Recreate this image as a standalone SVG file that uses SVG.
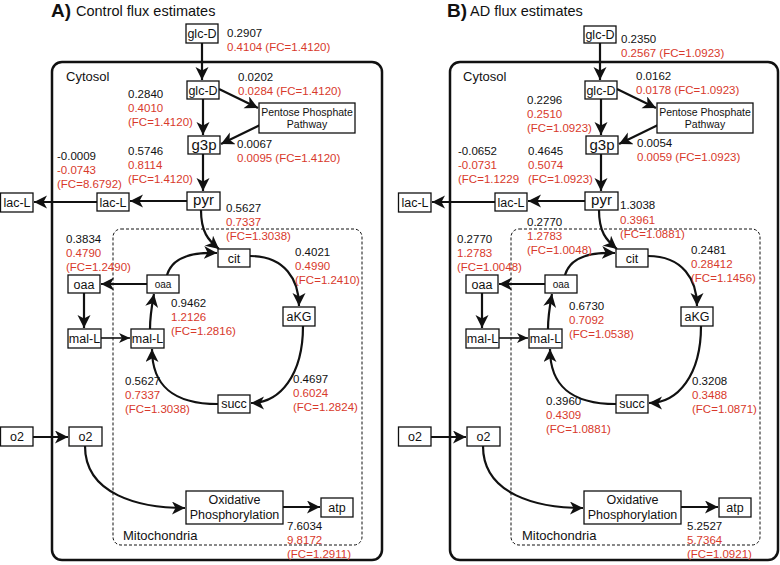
<svg xmlns="http://www.w3.org/2000/svg" width="780" height="565" viewBox="0 0 780 565">
<defs>
<style>
.bx{fill:#fff;stroke:#111;stroke-width:1.3}
.nt{font-family:"Liberation Sans",Arial,sans-serif;font-size:12.5px;fill:#111;text-anchor:middle}
.big{font-size:15px}
.sm{font-size:10px}
.pp{font-size:10.5px}
.lb{font-family:"Liberation Sans",Arial,sans-serif;font-size:11.5px;fill:#111}
.r{fill:#d8392b}
.rg{font-family:"Liberation Sans",Arial,sans-serif;font-size:13px;fill:#111}
.cy{fill:none;stroke:#111;stroke-width:2.5}
.mi{fill:none;stroke:#111;stroke-width:1;stroke-dasharray:3 2}
.c{fill:none;stroke:#111;stroke-width:2.2;marker-end:url(#ah)}
.cs{fill:none;stroke:#111;stroke-width:1.6;marker-end:url(#ahs)}
.tt{font-family:"Liberation Sans",Arial,sans-serif;font-size:14.5px;fill:#111}
.tb{font-family:"Liberation Sans",Arial,sans-serif;font-size:19px;font-weight:bold;fill:#111}
</style>
<marker id="ah" markerUnits="userSpaceOnUse" markerWidth="14" markerHeight="14" refX="13" refY="6.5" orient="auto"><path d="M0,0 L13,6.5 L0,13 L3.5,6.5 Z" fill="#111"/></marker>
<marker id="ahs" markerUnits="userSpaceOnUse" markerWidth="12" markerHeight="11" refX="11" refY="5" orient="auto"><path d="M0,0 L11,5 L0,10 L3,5 Z" fill="#111"/></marker>
</defs>

<!-- ===== Panel A ===== -->
<g id="panelA">
<text class="tb" x="51" y="17">A)</text>
<text class="tt" x="76" y="16">Control flux estimates</text>
<g id="a-cytosol"><rect class="cy" x="52" y="62" width="330" height="498" rx="10"/><text class="rg" x="66" y="81">Cytosol</text></g>
<g id="a-mito"><rect class="mi" x="113" y="229" width="249" height="316" rx="8"/><text class="rg" x="123" y="540">Mitochondria</text></g>
<g id="a-connectors">
<path class="c" d="M202,43 L202,80"/>
<path class="c" d="M219,89 L258,108"/>
<path class="c" d="M260,125 L221,144"/>
<path class="c" d="M203,99 L203,135"/>
<path class="c" d="M203,154 L203,191"/>
<path class="c" d="M187,201 L130,201"/>
<path class="c" d="M97,202 L34,202"/>
<path class="c" d="M201,210 C201,232 208,240 219,249"/>
<path class="c" d="M167,275 C172,258 192,252 217,253"/>
<path class="c" d="M250,256 C285,256 299,280 299,306"/>
<path class="c" d="M303,326 C303,375 280,403 251,403"/>
<path class="c" d="M218,404 C172,404 152,385 152,349"/>
<path class="c" d="M150,329 C150,315 152,305 154,294"/>
<path class="c" d="M147,284 L101,284"/>
<path class="c" d="M84,293 L84,328"/>
<path class="cs" d="M101,338 L130,338"/>
<path class="c" d="M33,437 L68,437"/>
<path class="c" d="M85,446 C85,495 140,508 185,508"/>
<path class="c" d="M283,507 L320,507"/>
</g>
<g id="a-glcD-ext"><rect class="bx" x="186" y="24" width="32" height="19"/><text class="nt" x="202" y="38">glc-D</text></g>
<g id="a-glcD"><rect class="bx" x="187" y="81" width="32" height="18"/><text class="nt" x="203" y="95">glc-D</text></g>
<g id="a-ppp"><rect class="bx" x="259" y="103" width="96" height="30"/><text class="nt pp" x="307" y="116">Pentose Phosphate</text><text class="nt pp" x="307" y="128">Pathway</text></g>
<g id="a-g3p"><rect class="bx" x="188" y="136" width="32" height="18"/><text class="nt big" x="204" y="150">g3p</text></g>
<g id="a-pyr"><rect class="bx" x="187" y="192" width="33" height="18"/><text class="nt big" x="203.5" y="205">pyr</text></g>
<g id="a-lacL-in"><rect class="bx" x="97" y="193" width="32" height="18"/><text class="nt" x="113" y="207">lac-L</text></g>
<g id="a-lacL-ext"><rect class="bx" x="0.5" y="193" width="32.5" height="19"/><text class="nt" x="17" y="207">lac-L</text></g>
<g id="a-cit"><rect class="bx" x="218" y="249" width="32" height="18"/><text class="nt" x="234" y="263">cit</text></g>
<g id="a-oaa-in"><rect class="bx" x="147" y="275" width="32" height="18"/><text class="nt sm" x="163" y="288">oaa</text></g>
<g id="a-oaa-out"><rect class="bx" x="68" y="275" width="32" height="18"/><text class="nt" x="84" y="289">oaa</text></g>
<g id="a-aKG"><rect class="bx" x="283" y="307" width="32" height="19"/><text class="nt" x="299" y="321">aKG</text></g>
<g id="a-malL-out"><rect class="bx" x="68" y="329" width="33" height="19"/><text class="nt" x="84.5" y="343">mal-L</text></g>
<g id="a-malL-in"><rect class="bx" x="131" y="329" width="33" height="19"/><text class="nt" x="147.5" y="343">mal-L</text></g>
<g id="a-succ"><rect class="bx" x="218" y="395" width="32" height="18"/><text class="nt" x="234" y="408">succ</text></g>
<g id="a-o2-ext"><rect class="bx" x="0.5" y="427" width="32.5" height="19"/><text class="nt" x="17" y="441">o2</text></g>
<g id="a-o2-in"><rect class="bx" x="69" y="427" width="33" height="19"/><text class="nt" x="85.5" y="441">o2</text></g>
<g id="a-oxphos"><rect class="bx" x="186" y="491" width="97" height="33"/><text class="nt" x="234.5" y="504">Oxidative</text><text class="nt" x="234.5" y="519">Phosphorylation</text></g>
<g id="a-atp"><rect class="bx" x="321" y="498" width="32" height="19"/><text class="nt" x="337" y="512">atp</text></g>
<g id="a-labels" class="lb">
<text x="227" y="37">0.2907</text><text class="r" x="227" y="51">0.4104 (FC=1.4120)</text>
<text x="238" y="81">0.0202</text><text class="r" x="238" y="95">0.0284 (FC=1.4120)</text>
<text x="128" y="98">0.2840</text><text class="r" x="128" y="112">0.4010</text><text class="r" x="128" y="126">(FC=1.4120)</text>
<text x="237" y="148">0.0067</text><text class="r" x="237" y="162">0.0095 (FC=1.4120)</text>
<text x="57" y="160">-0.0009</text><text class="r" x="57" y="174">-0.0743</text><text class="r" x="57" y="188">(FC=8.6792)</text>
<text x="128" y="155">0.5746</text><text class="r" x="128" y="169">0.8114</text><text class="r" x="128" y="183">(FC=1.4120)</text>
<text x="226" y="212">0.5627</text><text class="r" x="226" y="226">0.7337</text><text class="r" x="226" y="240">(FC=1.3038)</text>
<text x="66" y="243">0.3834</text><text class="r" x="66" y="257">0.4790</text><text class="r" x="66" y="271">(FC=1.2490)</text>
<text x="295" y="256">0.4021</text><text class="r" x="295" y="270">0.4990</text><text class="r" x="295" y="284">(FC=1.2410)</text>
<text x="171" y="307">0.9462</text><text class="r" x="171" y="321">1.2126</text><text class="r" x="171" y="335">(FC=1.2816)</text>
<text x="125" y="385">0.5627</text><text class="r" x="125" y="399">0.7337</text><text class="r" x="125" y="413">(FC=1.3038)</text>
<text x="293" y="383">0.4697</text><text class="r" x="293" y="397">0.6024</text><text class="r" x="293" y="411">(FC=1.2824)</text>
<text x="287" y="530">7.6034</text><text class="r" x="287" y="544">9.8172</text><text class="r" x="287" y="558">(FC=1.2911)</text>
</g>
</g>

<!-- ===== Panel B ===== -->
<g id="panelB" transform="translate(398,0)">
<text class="tb" x="49" y="17">B)</text>
<text class="tt" x="72" y="16">AD flux estimates</text>
<g id="b-cytosol"><rect class="cy" x="52" y="62" width="328" height="498" rx="10"/><text class="rg" x="65" y="81">Cytosol</text></g>
<g id="b-mito"><rect class="mi" x="113" y="229" width="249" height="316" rx="8"/><text class="rg" x="124" y="540">Mitochondria</text></g>
<g id="b-connectors">
<path class="c" d="M202,43 L202,80"/>
<path class="c" d="M219,89 L258,108"/>
<path class="c" d="M260,125 L221,144"/>
<path class="c" d="M203,99 L203,135"/>
<path class="c" d="M203,154 L203,191"/>
<path class="c" d="M187,201 L130,201"/>
<path class="c" d="M97,202 L34,202"/>
<path class="c" d="M201,210 C201,232 208,240 219,249"/>
<path class="c" d="M167,275 C172,258 192,252 217,253"/>
<path class="c" d="M250,256 C285,256 299,280 299,306"/>
<path class="c" d="M303,326 C303,375 280,403 251,403"/>
<path class="c" d="M218,404 C172,404 152,385 152,349"/>
<path class="c" d="M150,329 C150,315 152,305 154,294"/>
<path class="c" d="M147,284 L101,284"/>
<path class="c" d="M84,293 L84,328"/>
<path class="cs" d="M101,338 L130,338"/>
<path class="c" d="M33,437 L68,437"/>
<path class="c" d="M85,446 C85,495 140,508 185,508"/>
<path class="c" d="M283,507 L320,507"/>
</g>
<g id="b-glcD-ext"><rect class="bx" x="186" y="26" width="32" height="17"/><text class="nt" x="202" y="39">glc-D</text></g>
<g id="b-glcD"><rect class="bx" x="187" y="81" width="32" height="18"/><text class="nt" x="203" y="95">glc-D</text></g>
<g id="b-ppp"><rect class="bx" x="259" y="103" width="96" height="30"/><text class="nt pp" x="307" y="116">Pentose Phosphate</text><text class="nt pp" x="307" y="128">Pathway</text></g>
<g id="b-g3p"><rect class="bx" x="188" y="136" width="32" height="18"/><text class="nt big" x="204" y="150">g3p</text></g>
<g id="b-pyr"><rect class="bx" x="187" y="192" width="33" height="18"/><text class="nt big" x="203.5" y="205">pyr</text></g>
<g id="b-lacL-in"><rect class="bx" x="97" y="193" width="32" height="18"/><text class="nt" x="113" y="207">lac-L</text></g>
<g id="b-lacL-ext"><rect class="bx" x="0.5" y="193" width="32.5" height="19"/><text class="nt" x="17" y="207">lac-L</text></g>
<g id="b-cit"><rect class="bx" x="218" y="249" width="32" height="18"/><text class="nt" x="234" y="263">cit</text></g>
<g id="b-oaa-in"><rect class="bx" x="147" y="275" width="32" height="18"/><text class="nt sm" x="163" y="288">oaa</text></g>
<g id="b-oaa-out"><rect class="bx" x="68" y="275" width="32" height="18"/><text class="nt" x="84" y="289">oaa</text></g>
<g id="b-aKG"><rect class="bx" x="283" y="307" width="32" height="19"/><text class="nt" x="299" y="321">aKG</text></g>
<g id="b-malL-out"><rect class="bx" x="68" y="329" width="33" height="19"/><text class="nt" x="84.5" y="343">mal-L</text></g>
<g id="b-malL-in"><rect class="bx" x="131" y="329" width="33" height="19"/><text class="nt" x="147.5" y="343">mal-L</text></g>
<g id="b-succ"><rect class="bx" x="218" y="395" width="32" height="18"/><text class="nt" x="234" y="408">succ</text></g>
<g id="b-o2-ext"><rect class="bx" x="0.5" y="427" width="32.5" height="19"/><text class="nt" x="17" y="441">o2</text></g>
<g id="b-o2-in"><rect class="bx" x="69" y="427" width="33" height="19"/><text class="nt" x="85.5" y="441">o2</text></g>
<g id="b-oxphos"><rect class="bx" x="186" y="491" width="97" height="33"/><text class="nt" x="234.5" y="504">Oxidative</text><text class="nt" x="234.5" y="519">Phosphorylation</text></g>
<g id="b-atp"><rect class="bx" x="321" y="498" width="32" height="19"/><text class="nt" x="337" y="512">atp</text></g>
<g id="b-labels" class="lb">
<text x="223" y="43">0.2350</text><text class="r" x="223" y="57">0.2567 (FC=1.0923)</text>
<text x="238" y="80">0.0162</text><text class="r" x="238" y="94">0.0178 (FC=1.0923)</text>
<text x="129" y="104">0.2296</text><text class="r" x="129" y="118">0.2510</text><text class="r" x="129" y="132">(FC=1.0923)</text>
<text x="239" y="147">0.0054</text><text class="r" x="239" y="161">0.0059 (FC=1.0923)</text>
<text x="60" y="155">-0.0652</text><text class="r" x="60" y="169">-0.0731</text><text class="r" x="60" y="183">(FC=1.1229</text>
<text x="130" y="155">0.4645</text><text class="r" x="130" y="169">0.5074</text><text class="r" x="130" y="183">(FC=1.0923)</text>
<text x="222" y="209">1.3038</text><text class="r" x="222" y="224">0.3961</text><text class="r" x="222" y="238">(FC=1.0881)</text>
<text x="129" y="226">0.2770</text><text class="r" x="129" y="240">1.2783</text><text class="r" x="129" y="254">(FC=1.0048)</text>
<text x="59" y="243">0.2770</text><text class="r" x="59" y="257">1.2783</text><text class="r" x="59" y="271">(FC=1.0048)</text>
<text x="293" y="254">0.2481</text><text class="r" x="293" y="268">0.28412</text><text class="r" x="293" y="282">(FC=1.1456)</text>
<text x="171" y="310">0.6730</text><text class="r" x="171" y="324">0.7092</text><text class="r" x="171" y="338">(FC=1.0538)</text>
<text x="294" y="385">0.3208</text><text class="r" x="294" y="399">0.3488</text><text class="r" x="294" y="413">(FC=1.0871)</text>
<text x="148" y="405">0.3960</text><text class="r" x="148" y="419">0.4309</text><text class="r" x="148" y="433">(FC=1.0881)</text>
<text x="289" y="530">5.2527</text><text class="r" x="289" y="544">5.7364</text><text class="r" x="289" y="558">(FC=1.0921)</text>
</g>
</g>
</svg>
